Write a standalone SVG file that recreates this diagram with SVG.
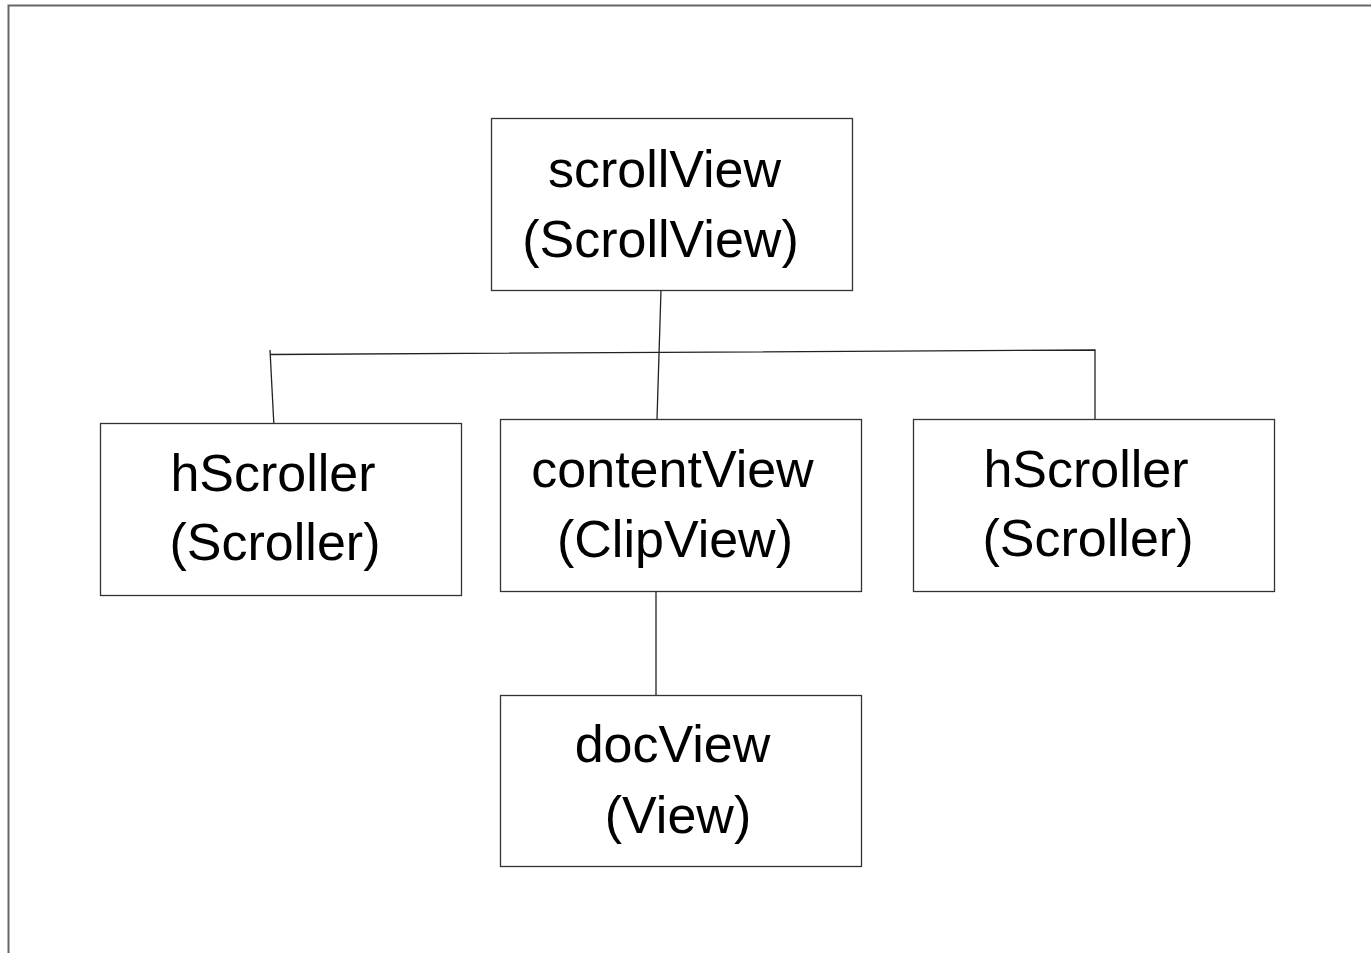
<svg xmlns="http://www.w3.org/2000/svg" width="1371" height="953" viewBox="0 0 1371 953">
  <style>
    .frame { fill: none; stroke: #666; stroke-width: 2; }
    .box { fill: #fff; stroke: #333; stroke-width: 1.3; }
    .link { fill: none; stroke: #222; stroke-width: 1.3; }
    .label { font-family: "Liberation Sans", Arial, sans-serif; font-size: 52px; fill: #000; text-anchor: middle; }
  </style>
  <rect width="1371" height="953" fill="#fff"/>
  <!-- page frame -->
  <path class="frame" d="M8.5 953 V5.5 H1371"/>

  <g id="connectors">
    <path class="link" d="M661 290 L657 419"/>
    <path class="link" d="M270 354.5 L1095 350 L1095 419"/>
    <path class="link" d="M270 350 L274 427"/>
    <path class="link" d="M656 591 L656 695"/>
  </g>

  <g id="scrollView">
    <rect class="box" x="491.5" y="118.5" width="361" height="172"/>
    <text class="label" x="664.5" y="187">scrollView</text>
    <text class="label" x="660.5" y="257">(ScrollView)</text>
  </g>

  <g id="hScrollerLeft">
    <rect class="box" x="100.5" y="423.5" width="361" height="172"/>
    <text class="label" x="273" y="491">hScroller</text>
    <text class="label" x="275" y="560">(Scroller)</text>
  </g>

  <g id="contentView">
    <rect class="box" x="500.5" y="419.5" width="361" height="172"/>
    <text class="label" x="672.5" y="487">contentView</text>
    <text class="label" x="675" y="557">(ClipView)</text>
  </g>

  <g id="hScrollerRight">
    <rect class="box" x="913.5" y="419.5" width="361" height="172"/>
    <text class="label" x="1086" y="487">hScroller</text>
    <text class="label" x="1088" y="556">(Scroller)</text>
  </g>

  <g id="docView">
    <rect class="box" x="500.5" y="695.5" width="361" height="171"/>
    <text class="label" x="672.5" y="762">docView</text>
    <text class="label" x="678" y="833">(View)</text>
  </g>
</svg>
